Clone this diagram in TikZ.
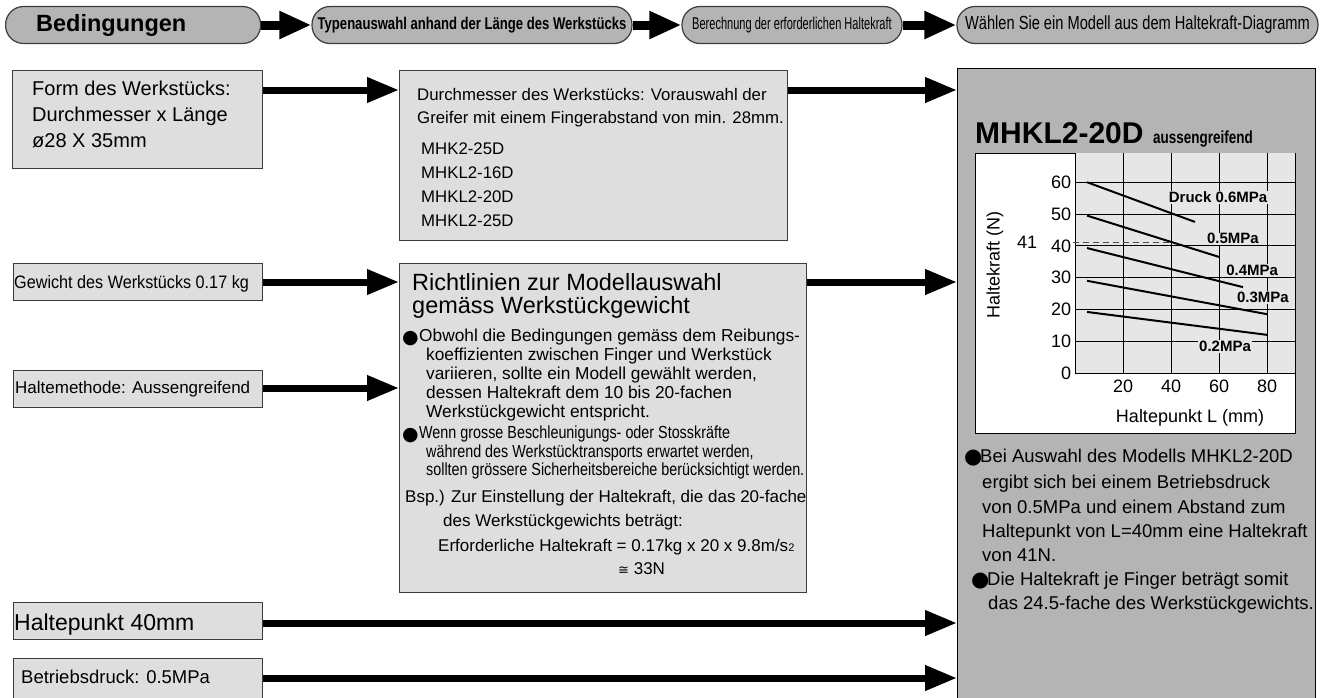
\documentclass[tikz,border=0pt]{standalone}
\usepackage{fontspec}
\setmainfont{Liberation Sans}
\newfontfamily\condfont{Liberation Sans}[FakeStretch=0.77]
\newfontfamily\slimfont{Liberation Sans}[FakeStretch=0.65]
\newfontfamily\narrowfont{Liberation Sans}[FakeStretch=0.82]
\newfontfamily\gewfont{Liberation Sans}[FakeStretch=0.9]
\newfontfamily\symbfont{DejaVu Sans}
\usetikzlibrary{arrows.meta}
\definecolor{pillgray}{HTML}{B4B4B4}
\definecolor{boxgray}{HTML}{DEDEDE}
\definecolor{plotgray}{HTML}{E6E6E6}
\definecolor{framegray}{HTML}{3C3C3C}
\newcommand{\fs}[1]{\fontsize{#1}{#1}\selectfont}
\newcommand{\bigdot}[1]{{\symbfont\fontsize{#1}{#1}\selectfont ●}}
\tikzset{
  pill/.style={draw=framegray, line width=1.2pt, fill=pillgray, rounded corners=18pt,
    minimum height=37pt, inner sep=0pt},
  lbox/.style={draw=framegray, line width=1pt, fill=boxgray, inner sep=0pt, anchor=north west},
  txt/.style={inner sep=0pt, anchor=base west},
  headarrow/.style={line width=9pt, -{Triangle[length=32pt,width=26pt]}},
  mainarrow/.style={line width=7pt, -{Triangle[length=32pt,width=24pt]}},
  curve/.style={line width=2pt},
  gridline/.style={line width=0.8pt},
  plabel/.style={font=\fs{15}\bfseries, fill=plotgray, inner sep=1pt},
}
\begin{document}
\begin{tikzpicture}[x=1pt,y=-1pt]
\useasboundingbox (0,0) rectangle (1324,697);

% header row
\node[pill, minimum width=255pt, anchor=west] (cond) at (5,25) {};
\node[inner sep=0pt, anchor=west, font=\fs{23.5}\bfseries] (condtext) at (36,25) {Bedingungen};
\node[pill, minimum width=320pt, font=\condfont\fs{17}\bfseries] (typesel) at (472,25) {Typenauswahl anhand der Länge des Werkstücks};
\node[pill, minimum width=220pt, font=\slimfont\fs{17}] (forcecalc) at (792,25) {Berechnung der erforderlichen Haltekraft};
\node[pill, minimum width=361pt, font=\condfont\fs{19}] (modelsel) at (1137.5,25) {Wählen Sie ein Modell aus dem Haltekraft-Diagramm};
\draw[headarrow] (cond.east) -- (typesel.west);
\draw[headarrow] (typesel.east) -- (forcecalc.west);
\draw[headarrow] (forcecalc.east) -- (modelsel.west);

% left column
\node[lbox, minimum width=250pt, minimum height=98pt] (formbox) at (12,70) {};
\node[txt, font=\fs{20}] (form1) at (32,95) {Form des Werkstücks:};
\node[txt, font=\fs{20}] (form2) at (32,121) {Durchmesser x Länge};
\node[txt, font=\fs{20}] (form3) at (32,147) {ø28 X 35mm};
\node[lbox, minimum width=249pt, minimum height=37pt] (weightbox) at (13,263) {};
\node[txt, font=\gewfont\fs{18}] (weighttext) at (14,288) {Gewicht des Werkstücks 0.17 kg};
\node[lbox, minimum width=249pt, minimum height=37pt] (methodbox) at (13,370) {};
\node[txt, font=\fs{17}] (methodtext) at (15,393) {Haltemethode: Aussengreifend};
\node[lbox, minimum width=249pt, minimum height=37pt] (pointbox) at (13,602) {};
\node[txt, font=\fs{23}] (pointtext) at (14,630) {Haltepunkt 40mm};
\node[lbox, minimum width=249pt, minimum height=42pt] (pressbox) at (13,658) {};
\node[txt, font=\fs{18.5}] (presstext) at (21,683) {Betriebsdruck: 0.5MPa};

% middle column
\node[lbox, minimum width=388pt, minimum height=170pt] (diabox) at (399,70) {};
\node[txt, font=\fs{16.8}] (dia1) at (417,100) {Durchmesser des Werkstücks: Vorauswahl der};
\node[txt, font=\fs{16.8}] (dia2) at (417,123) {Greifer mit einem Fingerabstand von min. 28mm.};
\node[txt, font=\fs{16.8}] (mod1) at (421,154) {MHK2-25D};
\node[txt, font=\fs{16.8}] (mod2) at (421,178) {MHKL2-16D};
\node[txt, font=\fs{16.8}] (mod3) at (421,202) {MHKL2-20D};
\node[txt, font=\fs{16.8}] (mod4) at (421,226) {MHKL2-25D};

\node[lbox, minimum width=407pt, minimum height=329pt] (rulebox) at (399,263) {};
\node[txt, font=\fs{23.5}] (rule1) at (412,290) {Richtlinien zur Modellauswahl};
\node[txt, font=\fs{23.5}] (rule2) at (412,313) {gemäss Werkstückgewicht};
\node[txt] (bul1) at (402,343) {\bigdot{19}};
\node[txt, font=\fs{17.3}] (fric1) at (419,341) {Obwohl die Bedingungen gemäss dem Reibungs-};
\node[txt, font=\fs{17.3}] (fric2) at (426,360) {koeffizienten zwischen Finger und Werkstück};
\node[txt, font=\fs{17.3}] (fric3) at (426,379) {variieren, sollte ein Modell gewählt werden,};
\node[txt, font=\fs{17.3}] (fric4) at (426,398) {dessen Haltekraft dem 10 bis 20-fachen};
\node[txt, font=\fs{17.3}] (fric5) at (426,417) {Werkstückgewicht entspricht.};
\node[txt] (bul2) at (402,440) {\bigdot{19}};
\node[txt, font=\narrowfont\fs{17.5}] (shock1) at (419,438) {Wenn grosse Beschleunigungs- oder Stosskräfte};
\node[txt, font=\narrowfont\fs{17.5}] (shock2) at (426,457) {während des Werkstücktransports erwartet werden,};
\node[txt, font=\narrowfont\fs{17.5}] (shock3) at (426,475) {sollten grössere Sicherheitsbereiche berücksichtigt werden.};
\node[txt, font=\fs{17}] (ex1) at (405,502) {Bsp.) Zur Einstellung der Haltekraft, die das 20-fache};
\node[txt, font=\fs{17}] (ex2) at (443,526) {des Werkstückgewichts beträgt:};
\node[txt, font=\fs{17}] (ex3) at (438,551) {Erforderliche Haltekraft = 0.17kg x 20 x 9.8m/s{\fs{11}2}};
\node[txt, font=\fs{17}] (ex4) at (618,574) {{\symbfont\fs{13}≅} 33N};

% right panel
\node[draw=black, line width=1pt, fill=pillgray, anchor=north west, minimum width=358pt,
  minimum height=640pt, inner sep=0pt] (panel) at (957,68) {};
\node[txt, font=\fs{30}\bfseries] (charttitle) at (975,143) {MHKL2-20D};
\node[txt, font=\condfont\fs{17.5}\bfseries] (chartsub) at (1153,143) {aussengreifend};
\draw[fill=white, line width=1pt] (975,153) rectangle (1295,433);
\begin{scope}[shift={(1075,373)}, x=2.4pt, y=3.18pt]
  \fill[plotgray] (0,0) rectangle (91.7,69.2);
  \foreach \xv in {20,40,60,80}
    \draw[gridline] (\xv,0) -- (\xv,69.2);
  \foreach \yv in {10,20,...,60}
    \draw[gridline] (0,\yv) -- (91.7,\yv);
  \draw[line width=1pt] (0,69.2) -- (0,0) -- (91.7,0);
  \foreach \yv in {0,10,...,60}
    \node[anchor=east, font=\fs{18}, inner sep=0pt] (ytick\yv) at (-1.5,\yv) {\yv};
  \foreach \xv in {20,40,60,80}
    \node[font=\fs{18}, inner sep=0pt] (xtick\xv) at (\xv,-4.2) {\xv};
  \draw[dash pattern=on 6pt off 4pt, line width=1pt, gray!60!black] (-1,41) -- (40,41);
  \node[font=\fs{18}, inner sep=0pt] (mark41) at (-20,41) {41};
  \draw[curve] (5,60) -- (50,47.5);
  \draw[curve] (5,49.5) -- (60,36.5);
  \draw[curve] (5,39.3) -- (70,27);
  \draw[curve] (5,29) -- (80,18.5);
  \draw[curve] (5,19.2) -- (80,12);
  \node[plabel] (p6) at (59.6,55.3) {Druck 0.6MPa};
  \node[plabel] (p5) at (65.8,42.2) {0.5MPa};
  \node[plabel] (p4) at (73.8,32.2) {0.4MPa};
  \node[plabel] (p3) at (78.3,23.8) {0.3MPa};
  \node[plabel] (p2) at (62.5,8.4) {0.2MPa};
\end{scope}
\node[font=\fs{18}, rotate=90, inner sep=0pt] (yaxis) at (995,265) {Haltekraft (N)};
\node[font=\fs{18}, inner sep=0pt] (xaxis) at (1190,418) {Haltepunkt L (mm)};

\node[txt] (dot1) at (964,463) {\bigdot{21}};
\node[txt, font=\fs{18.5}] (res1) at (980,462) {Bei Auswahl des Modells MHKL2-20D};
\node[txt, font=\fs{18.5}] (res2) at (982,488) {ergibt sich bei einem Betriebsdruck};
\node[txt, font=\fs{18.5}] (res3) at (982,513) {von 0.5MPa und einem Abstand zum};
\node[txt, font=\fs{18.5}] (res4) at (982,537) {Haltepunkt von L=40mm eine Haltekraft};
\node[txt, font=\fs{18.5}] (res5) at (982,561) {von 41N.};
\node[txt] (dot2) at (971,586) {\bigdot{21}};
\node[txt, font=\fs{18.5}] (res6) at (987,585) {Die Haltekraft je Finger beträgt somit};
\node[txt, font=\fs{18.5}] (res7) at (988,609) {das 24.5-fache des Werkstückgewichts.};

% arrows into the next column
\coordinate (rowform) at (0,90);
\coordinate (rowweight) at (0,282);
\coordinate (rowmethod) at (0,388);
\coordinate (rowpoint) at (0,623);
\coordinate (rowpress) at (0,678);
\draw[mainarrow] (formbox.east |- rowform) -- (diabox.west |- rowform);
\draw[mainarrow] (diabox.east |- rowform) -- (panel.west |- rowform);
\draw[mainarrow] (weightbox.east |- rowweight) -- (rulebox.west |- rowweight);
\draw[mainarrow] (rulebox.east |- rowweight) -- (panel.west |- rowweight);
\draw[mainarrow] (methodbox.east |- rowmethod) -- (rulebox.west |- rowmethod);
\draw[mainarrow] (pointbox.east |- rowpoint) -- (panel.west |- rowpoint);
\draw[mainarrow] (pressbox.east |- rowpress) -- (panel.west |- rowpress);
\end{tikzpicture}
\end{document}
